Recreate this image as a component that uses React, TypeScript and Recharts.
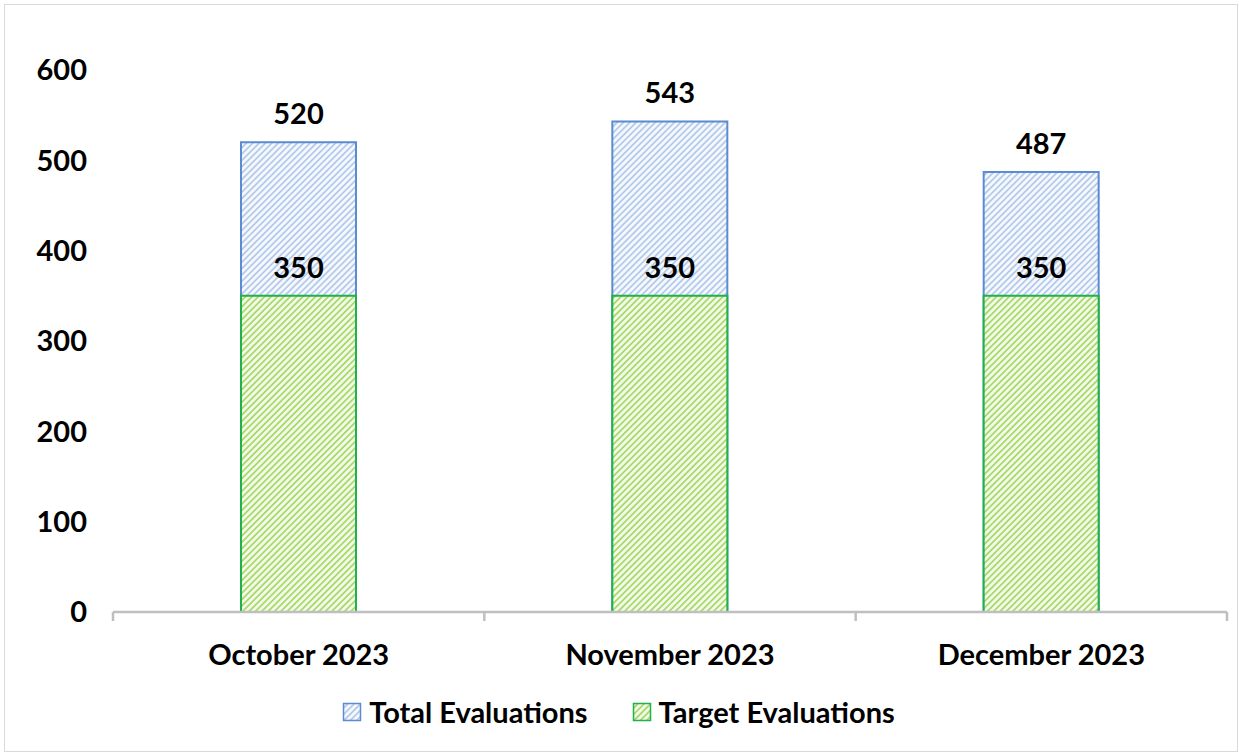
import React from "react";
import {
  BarChart,
  Bar,
  XAxis,
  YAxis,
  LabelList,
  Legend,
} from "recharts";

const months = ["October 2023", "November 2023", "December 2023"];
const totalEvaluations = [520, 543, 487];
const targetEvaluations = [350, 350, 350];
const yTicks = [0, 100, 200, 300, 400, 500, 600];

const data = months.map((month, i) => ({
  month,
  total: totalEvaluations[i],
  target: targetEvaluations[i],
}));

const FONT = "Lato, 'Open Sans', sans-serif";
const BAR_W = 115;
const CHART_W = 1239;
const CHART_H = 754;
const Y_AXIS_W = 113;
const MARGIN = { top: 70, right: 12, left: 0, bottom: 20 };
const HALF_BAND = (CHART_W - Y_AXIS_W - MARGIN.left - MARGIN.right) / months.length / 2;
const AXIS_GREY = "#bfbfbf";

const textStyle = { fill: "#000", fontSize: 29, fontWeight: 700, fontFamily: FONT };

const legendItems = [
  { label: "Total Evaluations", fill: "url(#blueHatch)", stroke: "#5b8bd0" },
  { label: "Target Evaluations", fill: "url(#greenHatch)", stroke: "#22b04a" },
];

// category label plus the tick marks that sit on the band edges
function MonthTick(props: any) {
  const { x, y, payload, index, visibleTicksCount } = props;
  const last = index === visibleTicksCount - 1;
  return (
    <g>
      <line x1={x - HALF_BAND} x2={x - HALF_BAND} y1={y} y2={y + 9} stroke={AXIS_GREY} strokeWidth={2.5} />
      {last && (
        <line x1={x + HALF_BAND} x2={x + HALF_BAND} y1={y} y2={y + 9} stroke={AXIS_GREY} strokeWidth={2.5} />
      )}
      <text x={x} y={y + 53} textAnchor="middle" {...textStyle}>
        {payload.value}
      </text>
    </g>
  );
}

function LegendContent() {
  return (
    <div
      style={{
        display: "flex",
        justifyContent: "center",
        gap: 44,
        fontFamily: FONT,
        fontWeight: 700,
        fontSize: 29,
        color: "#000",
        paddingLeft: 10,
      }}
    >
      {legendItems.map((item) => (
        <div key={item.label} style={{ display: "flex", alignItems: "center" }}>
          <svg width={20} height={20} style={{ marginRight: 7 }}>
            <rect
              x={1.5}
              y={1.5}
              width={17}
              height={17}
              fill={item.fill}
              stroke={item.stroke}
              strokeWidth={1.5}
            />
          </svg>
          {item.label}
        </div>
      ))}
    </div>
  );
}

export default function App() {
  return (
    <div style={{ position: "absolute", left: 0, top: 0, width: CHART_W, height: CHART_H, background: "#fff" }}>
      <div
        style={{
          position: "absolute",
          left: 4,
          top: 4,
          width: 1232,
          height: 746,
          border: "1.5px solid #d9d9d9",
          pointerEvents: "none",
        }}
      />
      <BarChart
        width={CHART_W}
        height={CHART_H}
        data={data}
        margin={MARGIN}
        barGap={-BAR_W}
        barSize={BAR_W}
      >
        <defs>
          <pattern id="blueHatch" width={4.5} height={4.5} patternUnits="userSpaceOnUse" patternTransform="rotate(45)">
            <rect width={4.5} height={4.5} fill="#f5f8fd" />
            <rect width={1.8} height={4.5} fill="#b6cbea" />
          </pattern>
          <pattern id="greenHatch" width={4.5} height={4.5} patternUnits="userSpaceOnUse" patternTransform="rotate(45)">
            <rect width={4.5} height={4.5} fill="#f3faea" />
            <rect width={1.8} height={4.5} fill="#a8da6c" />
          </pattern>
        </defs>
        <XAxis
          dataKey="month"
          height={82}
          axisLine={{ stroke: AXIS_GREY, strokeWidth: 2.5 }}
          tickLine={false}
          tickSize={0}
          tickMargin={0}
          tick={<MonthTick />}
          interval={0}
        />
        <YAxis
          domain={[0, 600]}
          ticks={yTicks}
          width={Y_AXIS_W}
          axisLine={false}
          tickLine={false}
          tickMargin={20}
          tick={textStyle}
        />
        <Legend verticalAlign="bottom" height={40} content={<LegendContent />} />
        <Bar
          dataKey="total"
          name="Total Evaluations"
          fill="url(#blueHatch)"
          stroke="#5b8bd0"
          strokeWidth={2}
          isAnimationActive={false}
        >
          <LabelList dataKey="total" position="top" offset={18} style={textStyle} />
        </Bar>
        <Bar
          dataKey="target"
          name="Target Evaluations"
          fill="url(#greenHatch)"
          stroke="#22b04a"
          strokeWidth={2}
          isAnimationActive={false}
        >
          <LabelList dataKey="target" position="top" offset={18} style={textStyle} />
        </Bar>
      </BarChart>
    </div>
  );
}
